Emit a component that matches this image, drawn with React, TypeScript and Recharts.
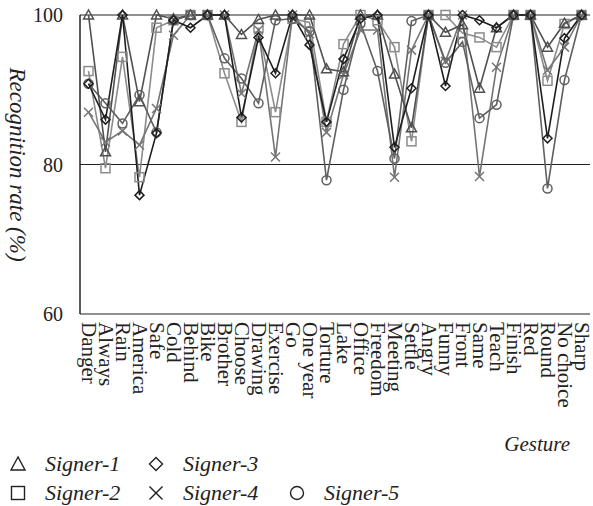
import { LineChart, Line, XAxis, YAxis, CartesianGrid, Label } from "recharts";

const gestures = [
  "Danger", "Always", "Rain", "America", "Safe", "Cold", "Behind", "Bike",
  "Brother", "Choose", "Drawing", "Exercise", "Go", "One year", "Torture",
  "Lake", "Office", "Freedom", "Meeting", "Settle", "Angry", "Funny", "Front",
  "Same", "Teach", "Finish", "Red", "Round", "No choice", "Sharp",
];

// recognition rate (%) per gesture
const signer1 = [100, 81.7, 100, 88.4, 100, 99.5, 100, 100, 100, 97.4, 99.4, 100, 100, 100, 92.8, 92.4, 100, 100, 92.1, 84.9, 100, 97.7, 98.7, 90.2, 98.3, 100, 100, 95.7, 98.9, 100];
const signer2 = [92.5, 79.5, 94.4, 78.3, 98.3, 99.3, 100, 100, 92.2, 85.7, 98.3, 87, 99.5, 99, 85.7, 96.1, 100, 99.3, 95.7, 83.1, 100, 100, 97.6, 97, 95.7, 100, 100, 91.2, 98.8, 100];
const signer3 = [90.8, 86, 100, 75.9, 84.2, 99.3, 98.3, 100, 100, 86.3, 97, 92.2, 100, 96, 85.7, 94.1, 99.5, 100, 82.3, 90.2, 100, 90.5, 100, 99.3, 98.3, 100, 100, 83.5, 96.9, 100];
const signer4 = [87, 83, 84.5, 82.6, 87.5, 97.3, 100, 100, 100, 89.5, 98, 81, 100, 97.5, 84.3, 92, 98, 98, 78.3, 95.3, 100, 93.8, 100, 78.4, 93, 100, 100, 92.6, 95.7, 100];
const signer5 = [90.8, 88.2, 85.5, 89.3, 84.3, 99.3, 100, 100, 94.2, 91.5, 88.2, 99.3, 99.5, 97.8, 77.9, 90, 98.9, 92.5, 80.8, 99.2, 100, 93.6, 96.4, 86.2, 88, 100, 100, 76.8, 91.3, 100];

const yTicks = [60, 80, 100];

type Shape = "triangle" | "square" | "diamond" | "cross" | "circle";

const signers: { key: string; name: string; values: number[]; color: string; shape: Shape }[] = [
  { key: "signer1", name: "Signer-1", values: signer1, color: "#505050", shape: "triangle" },
  { key: "signer2", name: "Signer-2", values: signer2, color: "#8c8c8c", shape: "square" },
  { key: "signer3", name: "Signer-3", values: signer3, color: "#1e1e1e", shape: "diamond" },
  { key: "signer4", name: "Signer-4", values: signer4, color: "#747474", shape: "cross" },
  { key: "signer5", name: "Signer-5", values: signer5, color: "#606060", shape: "circle" },
];

// draw order: lighter series underneath
const drawOrder = ["signer2", "signer4", "signer5", "signer1", "signer3"];

const rows = gestures.map((gesture, i) => {
  const row: Record<string, string | number> = { gesture };
  signers.forEach((s) => (row[s.key] = s.values[i]));
  return row;
});

// boundaries between gesture bands, used for the small inward ticks
const bandEdges = Array.from({ length: gestures.length + 1 }, (_, i) => i);

const FONT = "Liberation Serif, Times New Roman, DejaVu Serif, serif";
const INK = "#222";

function Marker({ shape, cx, cy, color, r = 4.5, sw = 1.5 }: { shape: Shape; cx: number; cy: number; color: string; r?: number; sw?: number }) {
  const common = { stroke: color, strokeWidth: sw, fill: "none" };
  switch (shape) {
    case "triangle":
      return <polygon points={`${cx},${cy - r - 0.5} ${cx - r - 0.5},${cy + r - 0.5} ${cx + r + 0.5},${cy + r - 0.5}`} {...common} />;
    case "square":
      return <rect x={cx - r} y={cy - r} width={r * 2} height={r * 2} {...common} />;
    case "diamond":
      return <polygon points={`${cx},${cy - r} ${cx + r},${cy} ${cx},${cy + r} ${cx - r},${cy}`} {...common} />;
    case "cross":
      return (
        <g {...common}>
          <line x1={cx - r} y1={cy - r} x2={cx + r} y2={cy + r} />
          <line x1={cx - r} y1={cy + r} x2={cx + r} y2={cy - r} />
        </g>
      );
    default:
      return <circle cx={cx} cy={cy} r={r} {...common} />;
  }
}

function GestureTick({ x, y, payload }: any) {
  return (
    <text
      x={x}
      y={y}
      transform={`rotate(90 ${x} ${y})`}
      textAnchor="start"
      dominantBaseline="central"
      style={{ fontFamily: FONT }}
      fontSize={21}
      fill={INK}
    >
      {payload.value}
    </text>
  );
}

function LegendIcon({ shape }: { shape: Shape }) {
  return (
    <svg width={18} height={18} style={{ display: "block" }}>
      <Marker shape={shape} cx={9} cy={9} color={INK} r={6.5} sw={1.4} />
    </svg>
  );
}

// legend fills column by column; the third column sits on the second row
const legendColumns = [
  { left: 9, top: 449, items: [signers[0], signers[1]] },
  { left: 147, top: 449, items: [signers[2], signers[3]] },
  { left: 288, top: 478, items: [signers[4]] },
];

export default function App() {
  return (
    <div style={{ position: "absolute", left: 0, top: 0, width: 593, height: 506, background: "#fff", fontFamily: FONT }}>
      <LineChart width={593} height={506} data={rows} margin={{ top: 15, right: 3, bottom: 42, left: 0 }}>
        <CartesianGrid xAxisId="cat" vertical={false} stroke={INK} strokeWidth={1.2} />
        <XAxis
          xAxisId="edges"
          type="number"
          domain={[0, gestures.length]}
          ticks={bandEdges}
          tick={false}
          mirror
          height={0}
          tickSize={5}
          axisLine={{ stroke: INK, strokeWidth: 1.5 }}
          tickLine={{ stroke: INK, strokeWidth: 1 }}
        />
        <XAxis
          xAxisId="cat"
          dataKey="gesture"
          scale="band"
          interval={0}
          height={150}
          axisLine={false}
          tickLine={false}
          tick={<GestureTick />}
        >
          <Label
            content={({ viewBox }: any) => (
              <text
                x={viewBox.x + viewBox.width - 20}
                y={viewBox.y + viewBox.height - 13}
                textAnchor="end"
                style={{ fontFamily: FONT }}
                fontStyle="italic"
                fontSize={21}
                fill={INK}
              >
                Gesture
              </text>
            )}
          />
        </XAxis>
        <YAxis
          domain={[60, 100]}
          ticks={yTicks}
          width={80}
          tickLine={false}
          tickMargin={11}
          axisLine={{ stroke: INK, strokeWidth: 1.5 }}
          tick={{ fontSize: 20, fill: INK, style: { fontFamily: FONT } }}
        >
          <Label
            content={({ viewBox }: any) => {
              const cx = 17;
              const cy = viewBox.y + viewBox.height / 2;
              return (
                <text
                  x={cx}
                  y={cy}
                  transform={`rotate(90 ${cx} ${cy})`}
                  textAnchor="middle"
                  dominantBaseline="central"
                  style={{ fontFamily: FONT }}
                  fontStyle="italic"
                  fontSize={23}
                  fill={INK}
                >
                  Recognition rate (%)
                </text>
              );
            }}
          />
        </YAxis>
        {drawOrder.map((key) => {
          const s = signers.find((x) => x.key === key)!;
          return (
            <Line
              key={s.key}
              xAxisId="cat"
              dataKey={s.key}
              name={s.name}
              stroke={s.color}
              strokeWidth={1.6}
              isAnimationActive={false}
              dot={(p: any) => <Marker key={`${s.key}-${p.index}`} shape={s.shape} cx={p.cx} cy={p.cy} color={s.color} />}
              activeDot={false}
            />
          );
        })}
      </LineChart>
      {legendColumns.map((col) => (
        <div key={col.left} style={{ position: "absolute", left: col.left, top: col.top }}>
          {col.items.map((s) => (
            <div key={s.key} style={{ display: "flex", alignItems: "center", height: 29 }}>
              <LegendIcon shape={s.shape} />
              <span style={{ marginLeft: 18, fontStyle: "italic", fontSize: 22, color: INK }}>{s.name}</span>
            </div>
          ))}
        </div>
      ))}
    </div>
  );
}
